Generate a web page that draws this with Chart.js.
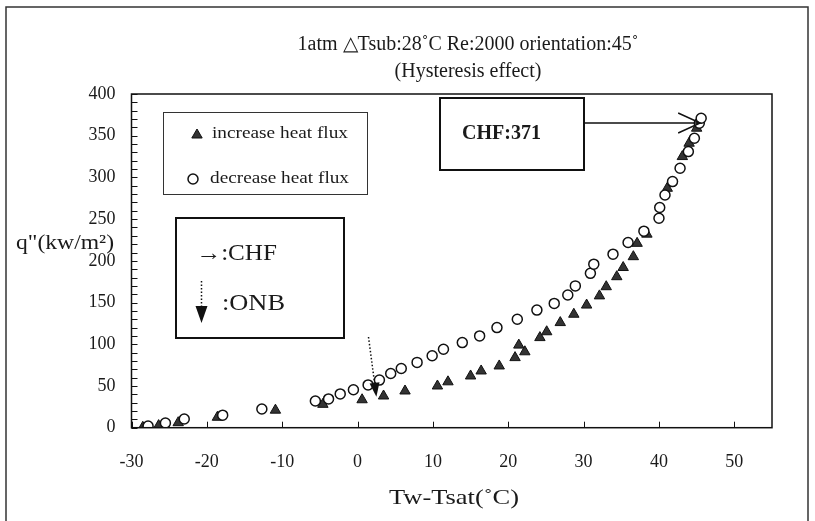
<!DOCTYPE html>
<html>
<head>
<meta charset="utf-8">
<script src="https://cdn.jsdelivr.net/npm/chart.js@4/dist/chart.umd.min.js"></script>
<style>
  html, body { margin: 0; padding: 0; background: #fff; }
  canvas { display: block; }
</style>
</head>
<body>
<canvas id="c" width="815" height="521"></canvas>
<script>
// Boiling curve, 1 atm, subcooling 28 C, Re 2000, 45 deg orientation
// Wall superheat Tw-Tsat (C) and heat flux q" (kW/m2)

const increaseX = [-28.5, -26.4, -23.8, -18.6, -10.9, -4.6, 0.6, 3.45, 6.3, 10.6, 12.0, 15.0, 16.4, 18.8,
                   20.9, 22.2, 21.4, 24.2, 25.1, 26.9, 28.7, 30.4, 32.1, 33.0, 34.4, 35.25, 36.6, 37.1,
                   38.4, 41.1, 43.1, 44.0, 45.0];
const increaseY = [0.5, 2.5, 6, 12.5, 21, 28, 33.5, 38, 44, 50, 55, 62, 68, 74,
                   84, 91, 99, 108, 115, 126, 136, 147, 158, 169, 181, 192, 205, 221,
                   232, 287, 325, 341, 359];

const decreaseX = [-27.8, -25.5, -23.0, -17.9, -12.7, -5.6, -3.85, -2.3, -0.55, 1.4, 2.9, 4.4, 5.8, 7.9,
                   9.9, 11.4, 13.9, 16.2, 18.5, 21.2, 23.8, 26.1, 27.9, 28.9, 30.9, 31.35, 33.9, 35.9,
                   38.0, 40.0, 40.1, 40.8, 41.8, 42.8, 43.9, 44.7, 45.35, 45.6];
const decreaseY = [2, 5.5, 10.4, 15, 22.4, 32, 34.5, 40.5, 45.5, 51.3, 57.1, 65, 71, 78.3,
                   86.2, 94, 102, 110, 120, 130, 141, 149, 159, 170, 185, 196, 208, 222,
                   235.6, 251, 264, 279, 295, 311, 331, 347, 365, 371];

const xTicks = [-30, -20, -10, 0, 10, 20, 30, 40, 50];
const yTicks = [0, 50, 100, 150, 200, 250, 300, 350, 400];

// onset of nucleate boiling marker (Tw-Tsat, q")
const onbPoint = [2.5, 37];

const titleLines = ['1atm \u25B3Tsub:28\u02DAC Re:2000 orientation:45\u02DA', '(Hysteresis effect)'];
const xTitle = 'Tw-Tsat(\u02DAC)';
const yTitle = 'q"(kw/m\u00B2)';
const legendLabels = ['increase heat flux', 'decrease heat flux'];

const SERIF = '"Liberation Serif", "Times New Roman", serif';
const INK = '#1a1a1a';

function toPoints(xs, ys) { return xs.map((x, i) => ({ x: x, y: ys[i] })); }

// CHF = highest heat flux reached on the decreasing branch
const chfIndex = decreaseY.indexOf(Math.max(...decreaseY));
const chfValue = decreaseY[chfIndex];

// draws text starting at x, stretched horizontally to the given width
function fitText(ctx, text, x, y, width) {
  const w = ctx.measureText(text).width;
  ctx.save();
  ctx.translate(x, y);
  ctx.scale(width / w, 1);
  ctx.textAlign = 'left';
  ctx.fillText(text, 0, 0);
  ctx.restore();
}

function drawMarker(ctx, style, x, y) {
  ctx.save();
  ctx.beginPath();
  if (style === 'triangle') {
    const r = 6;
    for (let k = 0; k < 3; k++) {
      const a = k * 2 * Math.PI / 3;
      const px = x + Math.sin(a) * r, py = y - Math.cos(a) * r;
      if (k === 0) ctx.moveTo(px, py); else ctx.lineTo(px, py);
    }
    ctx.closePath();
    ctx.fillStyle = '#333';
    ctx.fill();
    ctx.lineWidth = 1;
    ctx.strokeStyle = '#111';
    ctx.stroke();
  } else {
    ctx.arc(x, y, 5, 0, Math.PI * 2);
    ctx.fillStyle = '#fff';
    ctx.fill();
    ctx.lineWidth = 1.5;
    ctx.strokeStyle = '#111';
    ctx.stroke();
  }
  ctx.restore();
}

const decor = {
  id: 'decor',
  beforeDraw(chart) {
    const ctx = chart.ctx;
    ctx.save();
    ctx.fillStyle = '#fff';
    ctx.fillRect(0, 0, chart.width, chart.height);
    ctx.restore();
  },
  afterDatasetsDraw(chart) {
    const ctx = chart.ctx;
    const a = chart.chartArea;
    const xs = chart.scales.x, ys = chart.scales.y;
    ctx.save();

    // outer frame
    ctx.strokeStyle = '#333';
    ctx.lineWidth = 1.5;
    ctx.beginPath();
    ctx.moveTo(6, chart.height); ctx.lineTo(6, 7); ctx.lineTo(808, 7); ctx.lineTo(808, chart.height);
    ctx.stroke();

    // plot frame
    ctx.strokeStyle = '#111';
    ctx.lineWidth = 1.5;
    ctx.strokeRect(a.left, a.top, a.right - a.left, a.bottom - a.top);

    // inward tick marks
    ctx.lineWidth = 1;
    ctx.beginPath();
    for (let v = ys.min; v <= ys.max; v += 10) {
      const py = Math.round(ys.getPixelForValue(v)) + 0.5;
      ctx.moveTo(a.left, py); ctx.lineTo(a.left + 6, py);
    }
    xTicks.forEach(v => {
      const px = Math.round(xs.getPixelForValue(v)) + 0.5;
      ctx.moveTo(px, a.bottom); ctx.lineTo(px, a.bottom - 6);
    });
    ctx.stroke();

    // titles
    ctx.fillStyle = INK;
    ctx.textAlign = 'center';
    ctx.textBaseline = 'middle';
    ctx.font = '20px ' + SERIF;
    ctx.fillText(titleLines[0], 468, 45);
    ctx.fillText(titleLines[1], 468, 72);
    ctx.textAlign = 'left';
    ctx.font = '22px ' + SERIF;
    fitText(ctx, xTitle, 389, 498, 130);
    ctx.font = '21px ' + SERIF;
    fitText(ctx, yTitle, 16, 243, 98);

    // series legend
    ctx.strokeStyle = '#333';
    ctx.lineWidth = 1;
    ctx.strokeRect(163.5, 112.5, 204, 82);
    drawMarker(ctx, 'triangle', 197, 135);
    drawMarker(ctx, 'circle', 193, 179);
    ctx.fillStyle = INK;
    ctx.font = '16px ' + SERIF;
    fitText(ctx, legendLabels[0], 212, 134, 136);
    fitText(ctx, legendLabels[1], 210, 179, 139);

    // symbol key box
    ctx.strokeStyle = '#111';
    ctx.lineWidth = 2;
    ctx.strokeRect(176, 218, 168, 120);
    ctx.font = '23px ' + SERIF;
    fitText(ctx, '\u2192:CHF', 196, 254, 81);
    fitText(ctx, ':ONB', 222, 304, 63);
    ctx.lineWidth = 1.5;
    ctx.setLineDash([1.5, 2]);
    ctx.beginPath();
    ctx.moveTo(201.5, 281); ctx.lineTo(201.5, 307);
    ctx.stroke();
    ctx.setLineDash([]);
    ctx.beginPath();
    ctx.moveTo(195.5, 306); ctx.lineTo(207.5, 306); ctx.lineTo(201.5, 323); ctx.closePath();
    ctx.fillStyle = '#111';
    ctx.fill();

    // CHF call-out box and arrow
    ctx.lineWidth = 2;
    ctx.strokeRect(440, 98, 144, 72);
    ctx.fillStyle = INK;
    ctx.font = 'bold 20px ' + SERIF;
    ctx.textAlign = 'left';
    ctx.fillText('CHF:' + chfValue, 462, 134);
    const tipX = xs.getPixelForValue(decreaseX[chfIndex]) - 1;
    const ay = 123;
    ctx.lineWidth = 1.5;
    ctx.beginPath();
    ctx.moveTo(584, ay); ctx.lineTo(tipX, ay);
    ctx.moveTo(tipX - 22, ay - 10); ctx.lineTo(tipX, ay); ctx.lineTo(tipX - 22, ay + 10);
    ctx.stroke();

    // ONB arrow
    const ox = xs.getPixelForValue(onbPoint[0]);
    const oy = ys.getPixelForValue(onbPoint[1]);
    const sx = 368.5, sy = 337;
    const dx = ox - sx, dy = oy - sy, len = Math.hypot(dx, dy);
    const ux = dx / len, uy = dy / len;
    const hb = 14, hw = 5;
    ctx.setLineDash([1.5, 2]);
    ctx.beginPath();
    ctx.moveTo(sx, sy); ctx.lineTo(ox - ux * hb, oy - uy * hb);
    ctx.stroke();
    ctx.setLineDash([]);
    ctx.beginPath();
    ctx.moveTo(ox, oy);
    ctx.lineTo(ox - ux * hb - uy * hw, oy - uy * hb + ux * hw);
    ctx.lineTo(ox - ux * hb + uy * hw, oy - uy * hb - ux * hw);
    ctx.closePath();
    ctx.fillStyle = '#111';
    ctx.fill();

    ctx.restore();
  }
};

new Chart(document.getElementById('c'), {
  type: 'scatter',
  data: {
    datasets: [
      {
        label: legendLabels[1],
        data: toPoints(decreaseX, decreaseY),
        pointStyle: 'circle',
        pointRadius: 5,
        backgroundColor: '#fff',
        borderColor: '#111',
        borderWidth: 1.5,
        order: 0
      },
      {
        label: legendLabels[0],
        data: toPoints(increaseX, increaseY),
        pointStyle: 'triangle',
        pointRadius: 6,
        backgroundColor: '#333',
        borderColor: '#111',
        borderWidth: 1,
        order: 1
      }
    ]
  },
  options: {
    responsive: false,
    animation: false,
    devicePixelRatio: 1,
    layout: { padding: { left: 0, top: 94, right: 43, bottom: 0 } },
    plugins: { legend: { display: false }, tooltip: { enabled: false }, title: { display: false } },
    scales: {
      x: {
        type: 'linear',
        min: -30,
        max: 55,
        afterFit(s) { s.height = 93.3; },
        afterBuildTicks(s) { s.ticks = xTicks.map(v => ({ value: v })); },
        grid: { display: false, drawTicks: false },
        border: { display: false },
        ticks: { padding: 24, color: INK, font: { family: SERIF, size: 18 } }
      },
      y: {
        type: 'linear',
        min: 0,
        max: 400,
        afterFit(s) { s.width = 131.5; },
        afterBuildTicks(s) { s.ticks = yTicks.map(v => ({ value: v })); },
        grid: { display: false, drawTicks: false },
        border: { display: false },
        ticks: { padding: 16, color: INK, font: { family: SERIF, size: 18 } }
      }
    }
  },
  plugins: [decor]
});
</script>
</body>
</html>
